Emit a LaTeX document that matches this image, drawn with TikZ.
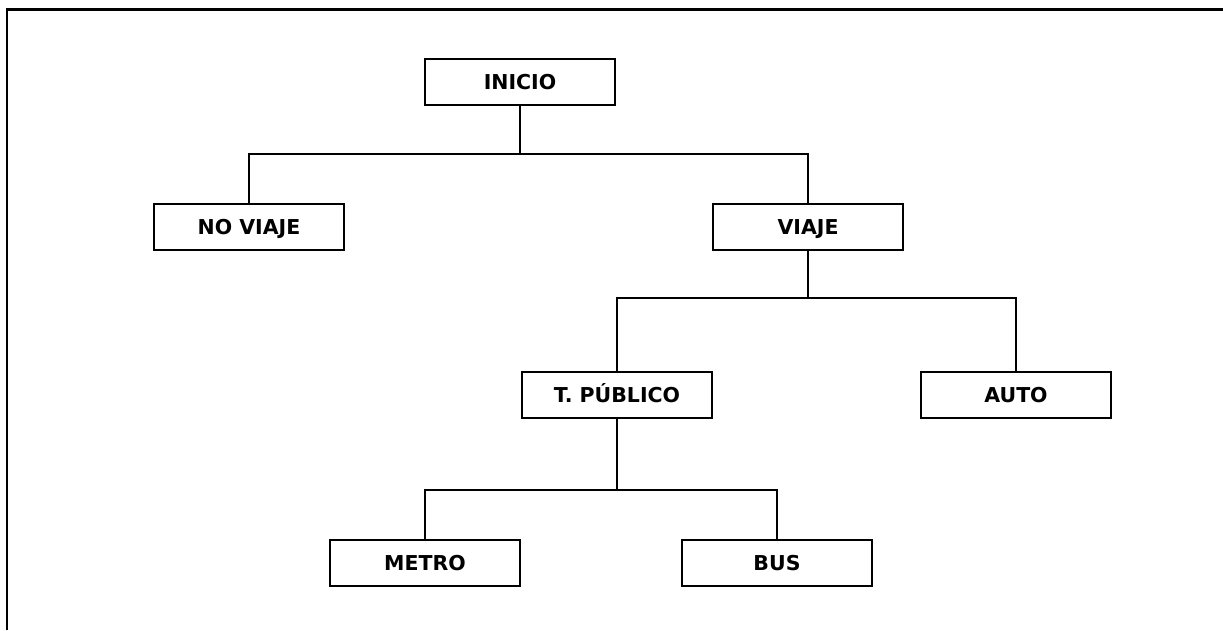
\documentclass[tikz,border=0pt]{standalone}
\usepackage{fontspec}
\setmainfont{DejaVu Sans}
\begin{document}
\begin{tikzpicture}[x=1pt,y=-1pt,
  boxnode/.style={draw=black,line width=2pt,minimum width=190pt,minimum height=46pt,inner sep=0pt,font=\fontsize{20.5}{22}\selectfont\bfseries},
  lbl/.style={font=\fontsize{20.5}{22}\selectfont\bfseries,inner sep=0pt,anchor=base},
  link/.style={draw=black,line width=2pt}]
\useasboundingbox (0,0) rectangle (1223,630);
\draw[line width=2.5pt,black] (7,630) -- (7,9.5) -- (1223,9.5);
\node[boxnode] (inicio) at (520,82) {};
\node[boxnode] (noviaje) at (249,227) {};
\node[boxnode] (viaje) at (808,227) {};
\node[boxnode] (tpub) at (617,395) {};
\node[boxnode] (auto) at (1016,395) {};
\node[boxnode] (metro) at (425,563) {};
\node[boxnode] (bus) at (777,563) {};
\node[lbl] (tinicio) at ([yshift=-7.5pt]inicio.center) {INICIO};
\node[lbl] (tnoviaje) at ([yshift=-7.5pt]noviaje.center) {NO VIAJE};
\node[lbl] (tviaje) at ([yshift=-7.5pt]viaje.center) {VIAJE};
\node[lbl] (ttpub) at ([yshift=-7.5pt]tpub.center) {T. PÚBLICO};
\node[lbl] (tauto) at ([yshift=-7.5pt]auto.center) {AUTO};
\node[lbl] (tmetro) at ([yshift=-7.5pt]metro.center) {METRO};
\node[lbl] (tbus) at ([yshift=-7.5pt]bus.center) {BUS};
\coordinate (j1) at (520,154);
\coordinate (j2) at (808,298);
\coordinate (j3) at (617,490);
\draw[link] (inicio.south) -- (j1);
\draw[link] (noviaje.north) |- (j1) -| (viaje.north);
\draw[link] (viaje.south) -- (j2);
\draw[link] (tpub.north) |- (j2) -| (auto.north);
\draw[link] (tpub.south) -- (j3);
\draw[link] (metro.north) |- (j3) -| (bus.north);
\end{tikzpicture}
\end{document}
